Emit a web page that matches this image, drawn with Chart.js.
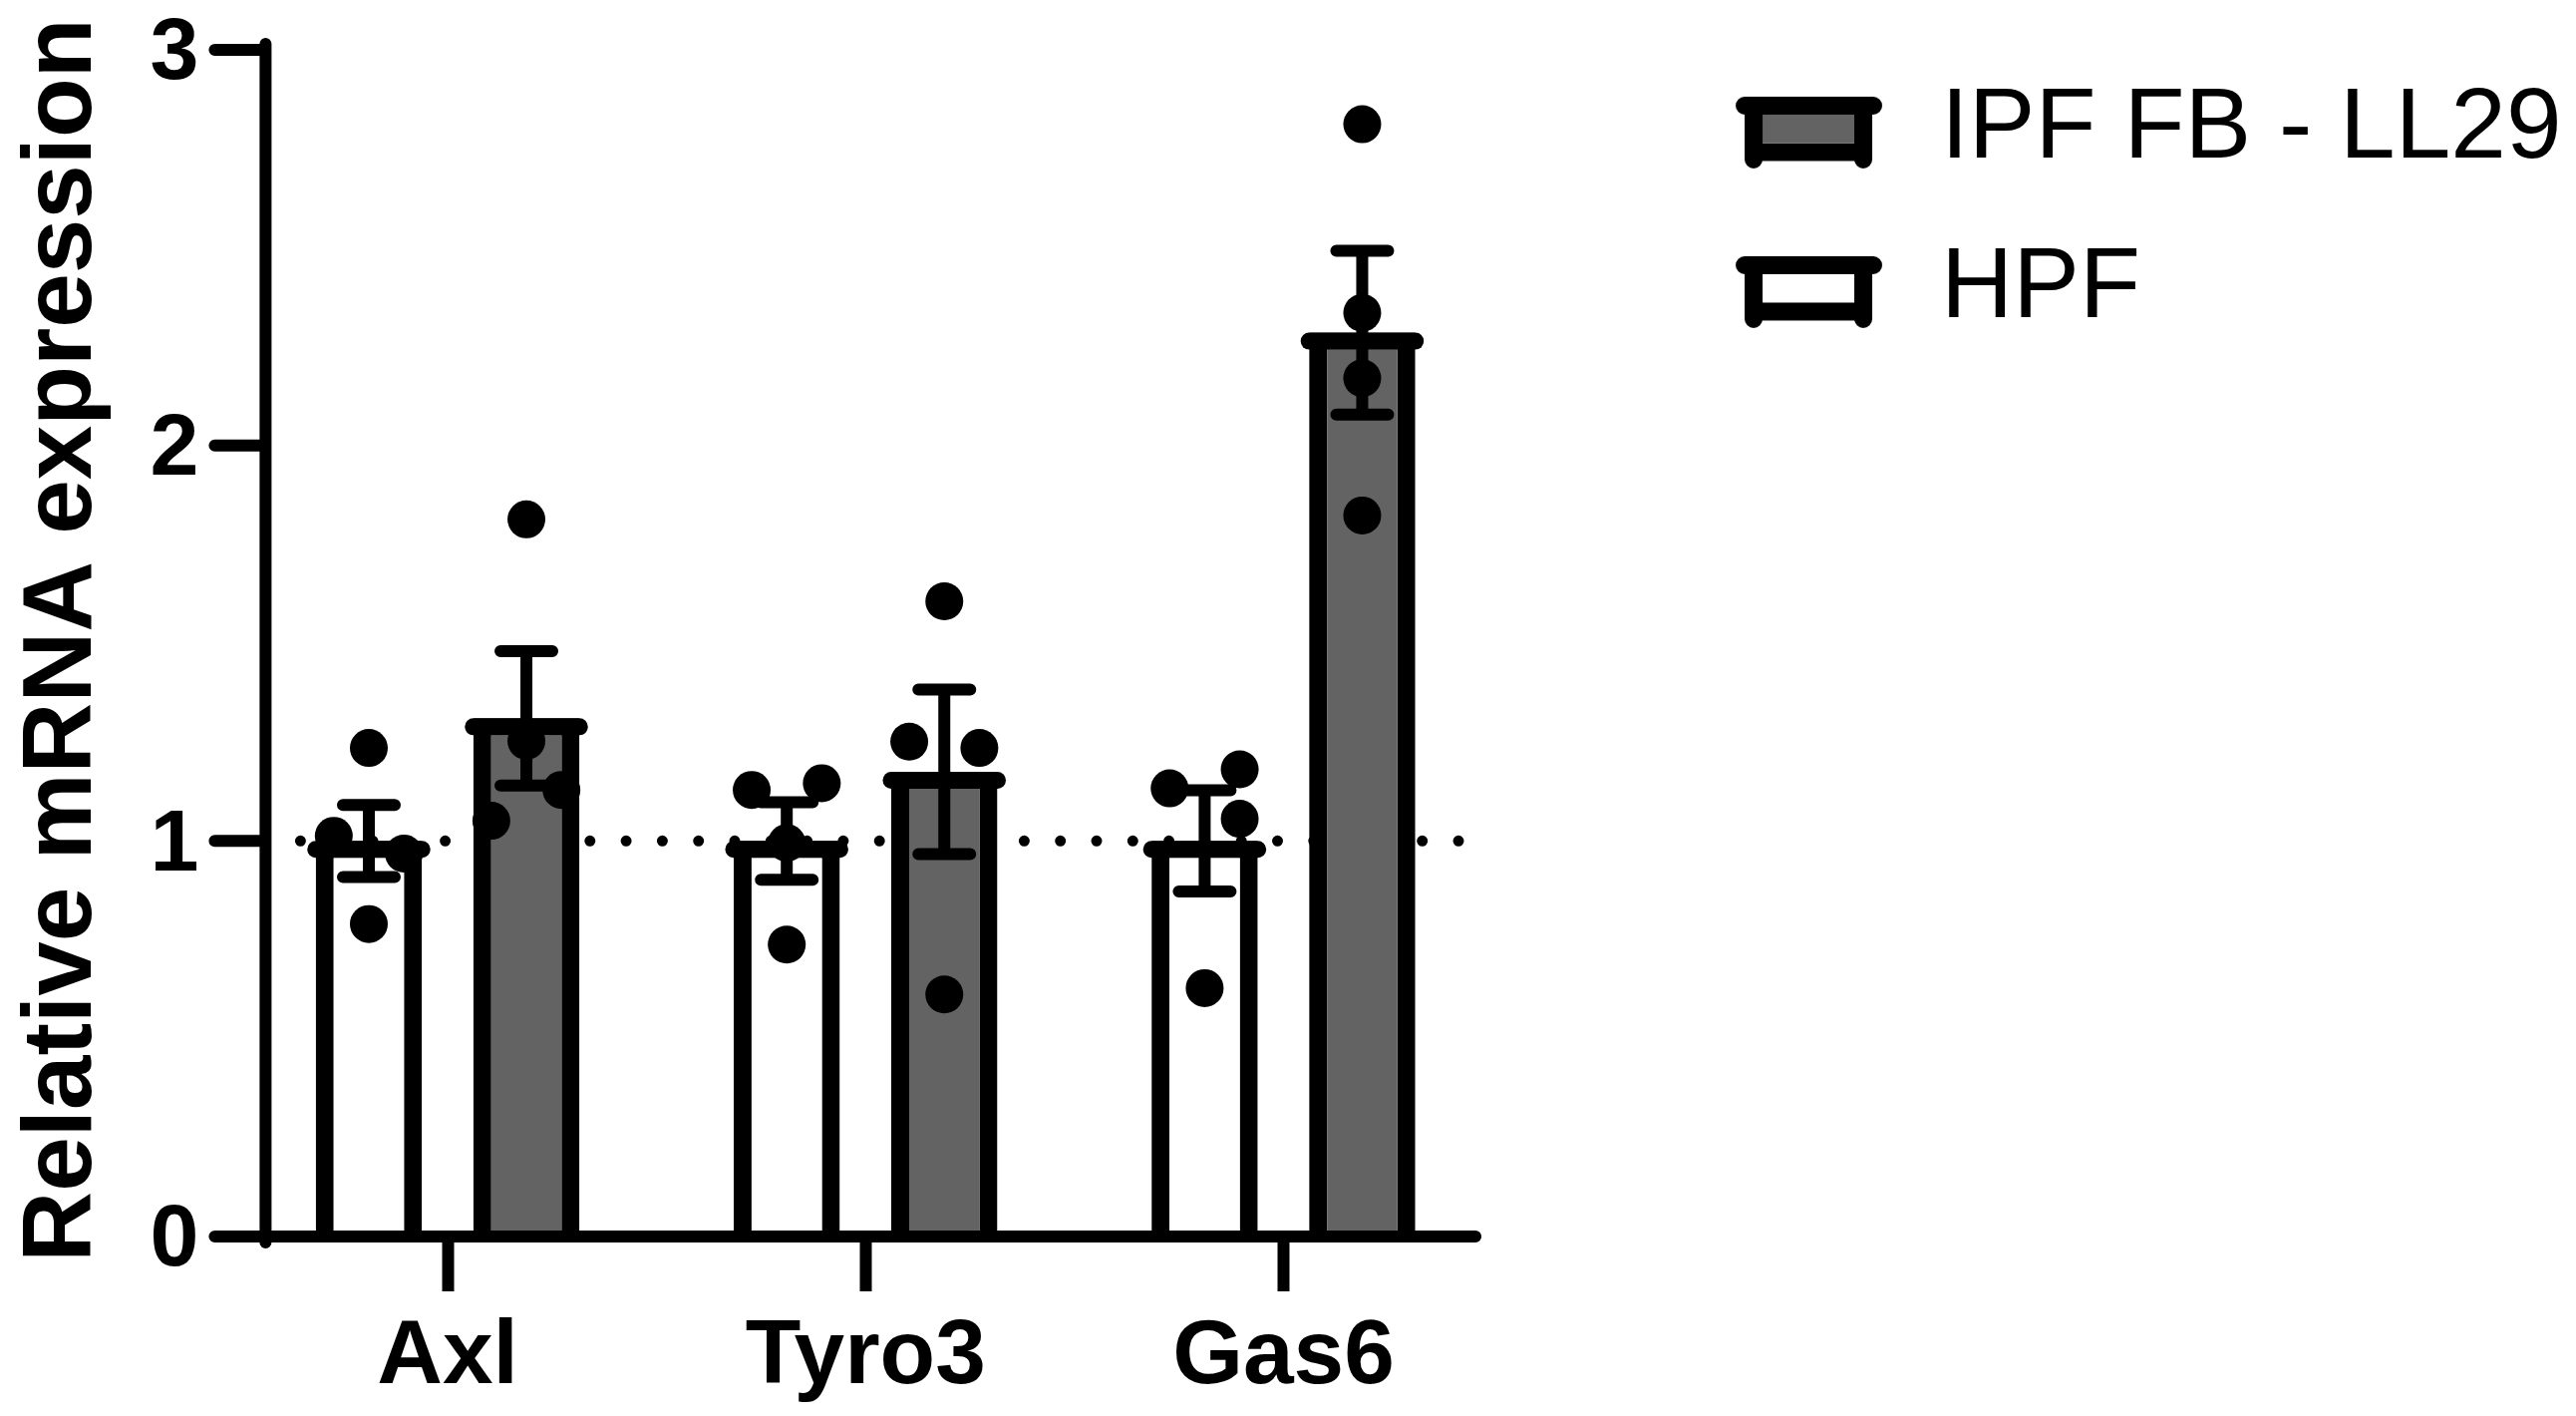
<!DOCTYPE html>
<html>
<head>
<meta charset="utf-8">
<title>Relative mRNA expression</title>
<script src="https://cdn.jsdelivr.net/npm/chart.js@4.4.1/dist/chart.umd.min.js"></script>
<style>
    html, body { margin: 0; padding: 0; background: #fff; }
    canvas { display: block; }
</style>
</head>
<body>
<canvas id="chart" width="2584" height="1420"></canvas>
<script>
// Values
const genes = ['Axl', 'Tyro3', 'Gas6'];
const seriesNames = ['HPF', 'IPF FB - LL29'];
const hpfMean = [1.0, 1.0, 1.0];
const hpfSem = [0.091, 0.098, 0.128];
const ipfMean = [1.31, 1.175, 2.285];
const ipfSem = [0.17, 0.208, 0.207];
const hpfPoints = [
    [1.235, 1.013, 0.968, 0.79],
    [1.129, 1.146, 0.995, 0.738],
    [1.133, 1.181, 1.056, 0.628]
];
const ipfPoints = [
    [1.813, 1.253, 1.129, 1.051],
    [1.606, 1.251, 1.235, 0.612],
    [2.812, 2.335, 2.17, 1.823]
];
// which side of the column each point sits on (-1 left, 0 centre, 1 right)
const hpfSide = [[0, -1, 1, 0], [-1, 1, 0, 0], [-1, 1, 1, 0]];
const ipfSide = [[0, 0, 1, -1], [0, -1, 1, 0], [0, 0, 0, 0]];
const yTicks = [0, 1, 2, 3];
const refLine = 1;
const yTitle = 'Relative mRNA expression';

const FONT = "'Liberation Sans', Arial, sans-serif";
const INK = '#000';
const GREY = '#636363';

// Legend key drawn like a little Prism column
function legendSymbol(fill) {
    const c = document.createElement('canvas');
    c.width = 340;
    c.height = 89;
    const g = c.getContext('2d');
    const ox = 184, oy = 11;
    g.fillStyle = fill;
    g.fillRect(ox + 27, oy + 18, 92, 28);
    g.strokeStyle = INK;
    g.lineWidth = 18;
    g.lineCap = 'round';
    g.beginPath();
    g.moveTo(ox + 9, oy + 9); g.lineTo(ox + 138, oy + 9);
    g.moveTo(ox + 18, oy + 9); g.lineTo(ox + 18, oy + 63);
    g.moveTo(ox + 128, oy + 9); g.lineTo(ox + 128, oy + 63);
    g.stroke();
    g.lineCap = 'butt';
    g.beginPath();
    g.moveTo(ox + 18, oy + 55.5); g.lineTo(ox + 128, oy + 55.5);
    g.stroke();
    return c;
}

const prismDecor = {
    id: 'prismDecor',
    beforeDatasetsDraw(chart) {
        // dotted line at 1
        const { ctx, chartArea: a, scales: { y } } = chart;
        const py = y.getPixelForValue(refLine);
        ctx.save();
        ctx.strokeStyle = INK;
        ctx.lineWidth = 11;
        ctx.lineCap = 'round';
        ctx.setLineDash([0, 36.3]);
        ctx.beginPath();
        ctx.moveTo(a.left + 62, py);
        ctx.lineTo(a.right - 32, py);
        ctx.stroke();
        ctx.restore();
    },
    afterDatasetsDraw(chart) {
        const { ctx, chartArea: a, scales: { y } } = chart;
        const axisX = a.left + 27;
        ctx.save();
        ctx.strokeStyle = INK;
        ctx.fillStyle = INK;
        ctx.lineCap = 'round';

        // axes
        ctx.lineWidth = 12;
        ctx.beginPath();
        ctx.moveTo(axisX, y.getPixelForValue(yTicks[yTicks.length - 1]) - 6);
        ctx.lineTo(axisX, a.bottom + 6);
        yTicks.forEach(v => {
            const py = y.getPixelForValue(v);
            ctx.moveTo(axisX - 51, py);
            ctx.lineTo(axisX, py);
        });
        ctx.moveTo(axisX, a.bottom);
        ctx.lineTo(a.right - 17, a.bottom);
        ctx.stroke();

        const groups = [
            [hpfPoints, hpfSide, hpfMean, hpfSem],
            [ipfPoints, ipfSide, ipfMean, ipfSem]
        ];
        groups.forEach(([pts, side, mean, sem], di) => {
            chart.getDatasetMeta(di).data.forEach((bar, i) => {
                const { x, y: top, width } = bar.getProps(['x', 'y', 'width'], true);

                // rounded ends on the top edge
                ctx.lineWidth = 17;
                ctx.beginPath();
                ctx.moveTo(x - width / 2, top + 8.5);
                ctx.lineTo(x + width / 2, top + 8.5);
                ctx.stroke();

                // individual points
                pts[i].forEach((v, k) => {
                    ctx.beginPath();
                    ctx.arc(x + side[i][k] * 0.33 * width, y.getPixelForValue(v), 19, 0, Math.PI * 2);
                    ctx.fill();
                });

                // mean +/- SEM
                const hi = y.getPixelForValue(mean[i] + sem[i]);
                const lo = y.getPixelForValue(mean[i] - sem[i]);
                ctx.lineWidth = 12;
                ctx.beginPath();
                ctx.moveTo(x, hi); ctx.lineTo(x, lo);
                ctx.moveTo(x - 26, hi); ctx.lineTo(x + 26, hi);
                ctx.moveTo(x - 26, lo); ctx.lineTo(x + 26, lo);
                ctx.stroke();
            });
        });
        ctx.restore();
    },
    afterDraw(chart) {
        // y axis title, baseline on the right
        const { ctx, chartArea: a } = chart;
        ctx.save();
        ctx.translate(91, (a.top + a.bottom) / 2 - 3);
        ctx.rotate(-Math.PI / 2);
        ctx.font = `bold 98px ${FONT}`;
        ctx.fillStyle = INK;
        ctx.textAlign = 'center';
        ctx.textBaseline = 'alphabetic';
        ctx.fillText(yTitle, 0, 0);
        ctx.restore();
    }
};

function createChart() {
    const ctx = document.getElementById('chart').getContext('2d');
    new Chart(ctx, {
        type: 'bar',
        data: {
            labels: genes,
            datasets: [
                {
                    label: seriesNames[0],
                    data: hpfMean,
                    backgroundColor: '#ffffff',
                    borderColor: INK,
                    borderWidth: { top: 17, left: 18, right: 18, bottom: 0 },
                    borderSkipped: 'start',
                    inflateAmount: 0
                },
                {
                    label: seriesNames[1],
                    data: ipfMean,
                    backgroundColor: GREY,
                    borderColor: INK,
                    borderWidth: { top: 17, left: 18, right: 18, bottom: 0 },
                    borderSkipped: 'start',
                    inflateAmount: 0
                }
            ]
        },
        options: {
            responsive: false,
            devicePixelRatio: 1,
            animation: false,
            categoryPercentage: 0.754,
            barPercentage: 0.674,
            layout: { padding: { top: 20.4, right: 4.5, bottom: 0, left: 0 } },
            scales: {
                x: {
                    afterFit: s => { s.height = 180; },
                    grid: {
                        display: true,
                        drawOnChartArea: false,
                        drawTicks: true,
                        tickLength: 55,
                        tickWidth: 12,
                        tickColor: INK,
                        offset: false
                    },
                    border: { display: false },
                    ticks: {
                        color: INK,
                        padding: 14,
                        autoSkip: false,
                        maxRotation: 0,
                        font: { family: FONT, size: 91, weight: 'bold', lineHeight: '106px' }
                    }
                },
                y: {
                    min: 0,
                    max: 3,
                    afterBuildTicks: s => { s.ticks = yTicks.map(v => ({ value: v })); },
                    afterFit: s => { s.width = 239.4; },
                    grid: { display: false, drawTicks: false },
                    border: { display: false },
                    ticks: {
                        color: INK,
                        padding: 40,
                        labelOffset: 5,
                        font: { family: FONT, size: 88, weight: 'bold', lineHeight: '20px' }
                    }
                }
            },
            plugins: {
                title: { display: true, text: '', padding: 0, font: { size: 10, lineHeight: '29.6px' } },
                tooltip: { enabled: false },
                legend: {
                    position: 'right',
                    align: 'start',
                    reverse: true,
                    maxWidth: 1200,
                    labels: {
                        usePointStyle: true,
                        pointStyleWidth: 340,
                        padding: 60,
                        color: INK,
                        font: { family: FONT, size: 100 },
                        generateLabels: chart => chart.data.datasets.map((ds, i) => ({
                            text: ds.label,
                            pointStyle: legendSymbol(ds.backgroundColor),
                            fillStyle: ds.backgroundColor,
                            strokeStyle: INK,
                            lineWidth: 0,
                            hidden: false,
                            datasetIndex: i,
                            fontColor: INK
                        }))
                    }
                }
            }
        },
        plugins: [prismDecor]
    });
}

document.addEventListener('DOMContentLoaded', createChart);
</script>
</body>
</html>
